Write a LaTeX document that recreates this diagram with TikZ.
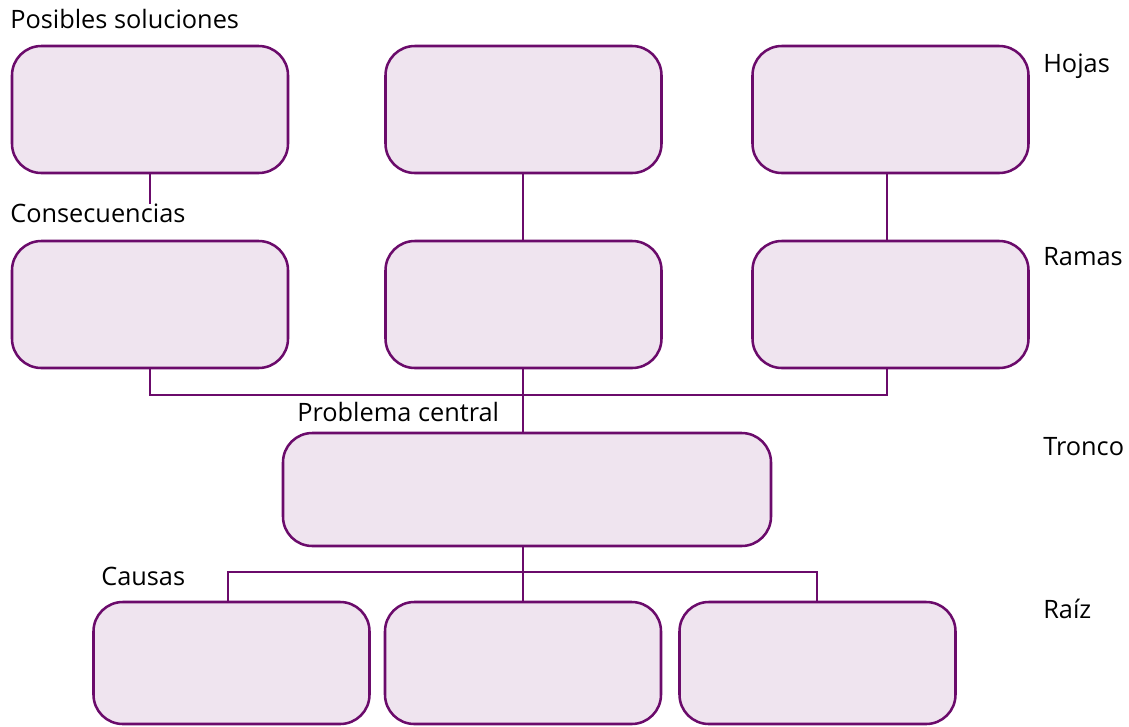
\documentclass[tikz,border=0pt]{standalone}
\usepackage{fontspec}
\setmainfont{Open Sans}
\definecolor{boxfill}{HTML}{EFE4EF}
\definecolor{boxline}{HTML}{6B0B6B}
\begin{document}
\begin{tikzpicture}[x=0.75pt,y=-0.75pt,
  box/.style={draw=boxline,fill=boxfill,line width=1.9pt,rounded corners=22pt,inner sep=0pt},
  small/.style={box,minimum width=207pt,minimum height=95.25pt},
  low/.style={box,minimum width=207pt,minimum height=91.5pt},
  wide/.style={box,minimum width=366pt,minimum height=84.75pt},
  lbl/.style={anchor=base west,inner sep=0pt,font=\fontsize{19}{21}\selectfont},
  conn/.style={draw=boxline,line width=1.9pt}]
\useasboundingbox (0,0) rectangle (1129,726);
% boxes
\node[small] (t1) at (150,109.5) {};
\node[small] (t2) at (523.5,109.5) {};
\node[small] (t3) at (890.5,109.5) {};
\node[small] (r1) at (150,304.5) {};
\node[small] (r2) at (523.5,304.5) {};
\node[small] (r3) at (890.5,304.5) {};
\node[wide] (c) at (527,489.5) {};
\node[low] (b1) at (231.5,663) {};
\node[low] (b2) at (523,663) {};
\node[low] (b3) at (817.5,663) {};
% labels
\node[lbl] (lps) at (10,28) {Posibles soluciones};
\node[lbl] (lco) at (10,222) {Consecuencias};
\node[lbl] (lpc) at (297,421) {Problema central};
\node[lbl] (lca) at (101,585) {Causas};
\node[lbl] (lho) at (1043,72) {Hojas};
\node[lbl] (lra) at (1043,265) {Ramas};
\node[lbl] (ltr) at (1043,455) {Tronco};
\node[lbl] (lrz) at (1043,618) {Raíz};
% junction coordinates
\coordinate (x1) at (150,395);
\coordinate (x2) at (523,395);
\coordinate (x3) at (887,395);
\coordinate (e1) at (150,204);
\coordinate (y1) at (228,572);
\coordinate (y2) at (523,572);
\coordinate (y3) at (817,572);
% connectors
\draw[conn] (t1.south) -- (e1);
\draw[conn] (t2.south -| x2) -- (r2.north -| x2);
\draw[conn] (t3.south -| x3) -- (r3.north -| x3);
\draw[conn] (r1.south -| x1) -- (x1) -- (x3) -- (r3.south -| x3);
\draw[conn] (r2.south -| x2) -- (c.north -| x2);
\draw[conn] (c.south -| y2) -- (b2.north -| y2);
\draw[conn] (b1.north -| y1) -- (y1) -- (y3) -- (b3.north -| y3);
\end{tikzpicture}
\end{document}
